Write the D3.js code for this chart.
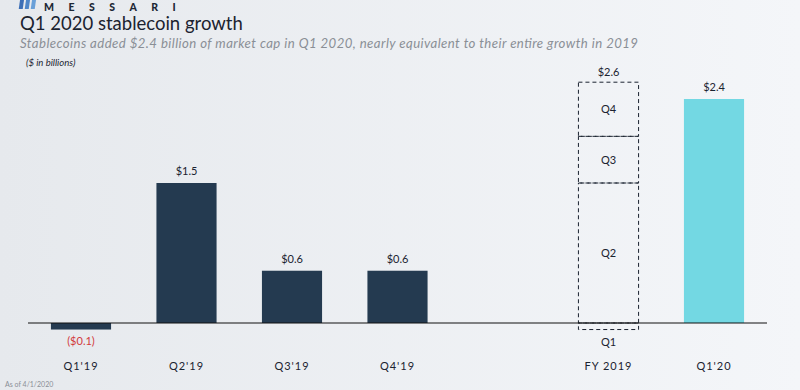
<!DOCTYPE html>
<html><head><meta charset="utf-8">
<script src="https://cdn.jsdelivr.net/npm/d3@7"></script>
<style>html,body{margin:0;padding:0;overflow:hidden;}svg{display:block;font-family:Lato,"Open Sans",sans-serif;}</style>
</head><body>
<script>
const categories = ["Q1'19","Q2'19","Q3'19","Q4'19","","FY 2019","Q1'20"];
const barValues = [-0.07, 1.5, 0.56, 0.56, null, null, 2.4];
const barLabels = ["($0.1)","$1.5","$0.6","$0.6","","","$2.4"];
const fySegmentNames = ["Q1","Q2","Q3","Q4"];
const fySegmentValues = [-0.07, 1.5, 0.5, 0.58];
const fyTotalLabel = "$2.6";

const W = 800, H = 390;
const svg = d3.select("body").append("svg").attr("width", W).attr("height", H);
const defs = svg.append("defs");
const g0 = defs.append("linearGradient").attr("id","bg").attr("x1","0").attr("x2","1").attr("y1","0").attr("y2","0");
g0.append("stop").attr("offset","0").attr("stop-color","#e6e9ed");
g0.append("stop").attr("offset","1").attr("stop-color","#f4f6f9");
svg.append("rect").attr("width",W).attr("height",H).attr("fill","url(#bg)");

// logo
const logo = svg.append("g");
[0,1,2].forEach(i=>logo.append("rect").attr("x",20+i*6).attr("y",-4).attr("width",4).attr("height",13).attr("fill",["#3d6fb6","#4f86c8","#6aa0d8"][i]).attr("transform","skewX(-8)"));
logo.append("text").attr("x",44).attr("y",11).attr("font-size",10.5).attr("font-weight",900).attr("letter-spacing",14.5).attr("fill","#1d2836").text("MESSARI");

svg.append("text").attr("x",20).attr("y",30).attr("font-size",18.5).attr("fill","#1b2330").text("Q1 2020 stablecoin growth");
svg.append("text").attr("x",20).attr("y",48).attr("font-size",13.2).attr("font-style","italic").attr("fill","#8a8f96")
  .attr("textLength",618).attr("lengthAdjust","spacing")
  .text("Stablecoins added $2.4 billion of market cap in Q1 2020, nearly equivalent to their entire growth in 2019");
svg.append("text").attr("x",26).attr("y",66).attr("font-size",9.5).attr("font-style","italic").attr("fill","#1b2330").text("($ in billions)");
svg.append("text").attr("x",5).attr("y",387).attr("font-size",7).attr("fill","#8a8f96").text("As of 4/1/2020");

const x = d3.scaleBand().domain(categories).range([28.25, 766.75]).paddingInner(0.43).paddingOuter(0.215);
const y = d3.scaleLinear().domain([0, 2.4]).range([323, 99]);

const bars = categories.map((c,i)=>({c, v:barValues[i], label:barLabels[i], i})).filter(d=>d.v!==null);
svg.selectAll("rect.bar").data(bars).enter().append("rect")
  .attr("x", d=>x(d.c)).attr("width", x.bandwidth())
  .attr("y", d=>y(Math.max(0,d.v))).attr("height", d=>Math.abs(y(d.v)-y(0)))
  .attr("fill", d=>d.c==="Q1'20" ? "#73d8e3" : "#243a50");

svg.selectAll("text.vlab").data(bars).enter().append("text")
  .attr("x", d=>x(d.c)+x.bandwidth()/2)
  .attr("y", d=> d.v<0 ? y(d.v)+15 : y(d.v)-8)
  .attr("text-anchor","middle").attr("font-size",11)
  .attr("fill", d=> d.v<0 ? "#d23a3c" : "#1b2330")
  .text(d=>d.label);

// FY 2019 dashed stack
const fx = x("FY 2019"), bw = x.bandwidth();
let cum = 0;
const segs = fySegmentNames.map((n,i)=>{
  const v = fySegmentValues[i];
  let y0, y1;
  if (v<0){ y0 = v; y1 = 0; } else { y0 = cum; y1 = cum+v; cum += v; }
  return {n, y0, y1};
});
const fy = svg.append("g");
fy.selectAll("rect").data(segs).enter().append("rect")
  .attr("x", fx).attr("width", bw)
  .attr("y", d=>y(d.y1)).attr("height", d=>y(d.y0)-y(d.y1))
  .attr("fill","none").attr("stroke","#1b2330").attr("stroke-width",1).attr("stroke-dasharray","4,3");
fy.selectAll("text").data(segs).enter().append("text")
  .attr("x", fx+bw/2)
  .attr("y", d=> d.y0<0 ? y(d.y0)+16 : (y(d.y0)+y(d.y1))/2+4)
  .attr("text-anchor","middle").attr("font-size",11).attr("fill","#1b2330").text(d=>d.n);
fy.append("text").attr("x", fx+bw/2).attr("y", y(cum)-6).attr("text-anchor","middle").attr("font-size",11).attr("fill","#1b2330").text(fyTotalLabel);

// axis
svg.append("line").attr("x1",28).attr("x2",767).attr("y1",y(0)).attr("y2",y(0)).attr("stroke","#111").attr("stroke-width",1.2);
svg.selectAll("text.cat").data(categories.filter(c=>c)).enter().append("text")
  .attr("x", d=>x(d)+bw/2).attr("y",370).attr("text-anchor","middle").attr("font-size",11).attr("letter-spacing",1)
  .attr("fill","#1b2330").text(d=>d);
</script>
</body></html>
